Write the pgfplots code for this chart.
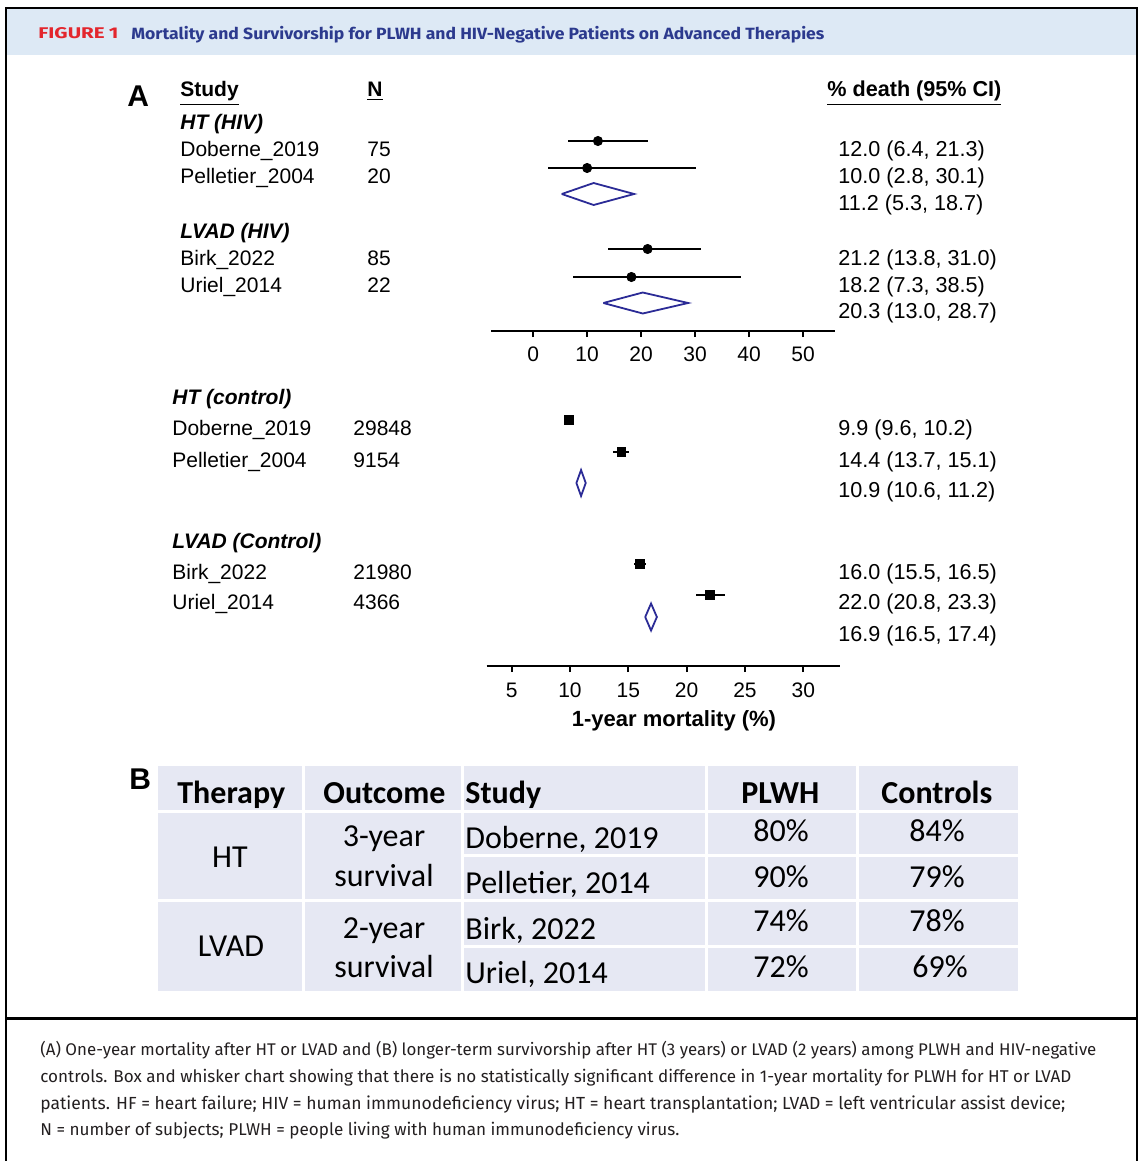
\documentclass[border=0pt]{standalone}
\usepackage{pgfplots}
\pgfplotsset{compat=1.18}
\usepackage{pgfplotstable}
\usepackage{graphicx}
\usepackage{fontspec}
\setmainfont{Liberation Sans}
\newfontfamily\tabfont{Carlito}
\newfontfamily\capfont{Fira Sans}
\definecolor{hdrbg}{HTML}{DDE9F5}
\definecolor{hdrred}{HTML}{E3262D}
\definecolor{hdrblue}{HTML}{2C3A8E}
\definecolor{dblue}{HTML}{2B2B96}
\definecolor{tabbg}{HTML}{E6E8F3}
\definecolor{captxt}{HTML}{231F20}
\newcommand{\ft}{\fontsize{10.5}{12}\selectfont}
\newcommand{\fv}{\fontsize{10.8}{12}\selectfont}
\newcommand{\tf}{\tabfont\fontsize{16}{19}\selectfont}

% upper panel: PLWH (row position in px above axis line)
\pgfplotstableread{
x y em ep
12.0 190 5.6 9.3
10.0 163 7.2 20.1
21.2 82 7.4 9.8
18.2 54 10.9 20.3
}\hivdata
% lower panel: controls
\pgfplotstableread{
x y em ep
9.9 246 0.3 0.3
14.4 214 0.7 0.7
16.0 102 0.5 0.5
22.0 71 1.2 1.3
}\ctrldata

\begin{document}
\begin{tikzpicture}[x=0.5pt,y=-0.5pt,
  t/.style={anchor=base west, inner sep=0pt, font=\ft},
  v/.style={anchor=base west, inner sep=0pt, font=\fv},
  tc/.style={anchor=base, inner sep=0pt, font=\tf},
  tl/.style={anchor=base west, inner sep=0pt, font=\tf}]
\useasboundingbox (0,0) rectangle (1142,1161);
% header
\fill[hdrbg] (7,9) rectangle (1136,55);
\draw[line width=1pt] (6,1161) -- (6,8) -- (1137,8) -- (1137,1161);
\draw[line width=1.5pt] (6,1018) -- (1137,1018);
\node[anchor=base west, inner sep=0pt, text=hdrred] at (38,39) {\resizebox{40pt}{5.5pt}{\capfont\bfseries FIGURE\kern0.2em 1}};
\node[anchor=base west, inner sep=0pt, text=hdrblue] at (131,40) {\resizebox{346.5pt}{6.6pt}{\capfont\bfseries Mortality and Survivorship for PLWH and HIV-Negative Patients on Advanced Therapies}};

% panel A labels
\node[anchor=base west, inner sep=0pt, font=\fontsize{15}{17}\selectfont\bfseries] at (127,106) {A};
\node[t] at (180,97) {\underline{\textbf{Study}}};
\node[t] at (367,97) {\underline{\textbf{N}}};
\node[v] at (827,97) {\underline{\textbf{\% death (95\% CI)}}};
\node[t] at (180,129) {\textbf{\textit{HT (HIV)}}};
\node[t] at (180,156) {Doberne\_2019};
\node[t] at (367,156) {75};
\node[t] at (180,183) {Pelletier\_2004};
\node[t] at (367,183) {20};
\node[t] at (180,238) {\textbf{\textit{LVAD (HIV)}}};
\node[t] at (180,265) {Birk\_2022};
\node[t] at (367,265) {85};
\node[t] at (180,292) {Uriel\_2014};
\node[t] at (367,292) {22};
\node[v] at (838,156) {12.0 (6.4, 21.3)};
\node[v] at (838,183) {10.0 (2.8, 30.1)};
\node[v] at (838,210) {11.2 (5.3, 18.7)};
\node[v] at (838,265) {21.2 (13.8, 31.0)};
\node[v] at (838,292) {18.2 (7.3, 38.5)};
\node[v] at (838,318) {20.3 (13.0, 28.7)};

\node[t] at (172,404) {\textbf{\textit{HT (control)}}};
\node[t] at (172,435) {Doberne\_2019};
\node[t] at (353,435) {29848};
\node[t] at (172,467) {Pelletier\_2004};
\node[t] at (353,467) {9154};
\node[t] at (172,548) {\textbf{\textit{LVAD (Control)}}};
\node[t] at (172,579) {Birk\_2022};
\node[t] at (353,579) {21980};
\node[t] at (172,609) {Uriel\_2014};
\node[t] at (353,609) {4366};
\node[v] at (838,435) {9.9 (9.6, 10.2)};
\node[v] at (838,467) {14.4 (13.7, 15.1)};
\node[v] at (838,497) {10.9 (10.6,\ 11.2)};
\node[v] at (838,579) {16.0 (15.5,\ 16.5)};
\node[v] at (838,609) {22.0 (20.8,\ 23.3)};
\node[v] at (838,641) {16.9 (16.5,\ 17.4)};
\node[anchor=base, inner sep=0pt, font=\fontsize{11}{13}\selectfont\bfseries] at (674,726) {1-year mortality (\%)};

% upper forest plot
\begin{axis}[at={(245.5pt,-165.5pt)}, anchor=south west,
  scale only axis, width=172pt, height=105.5pt,
  xmin=-7.8, xmax=55.9, ymin=0, ymax=211,
  axis x line*=bottom, axis y line=none,
  axis line style={black, line width=1pt},
  xtick={0,10,20,30,40,50}, tick align=outside, major tick length=3pt,
  every tick/.style={black, line width=0.9pt},
  xticklabel style={font=\ft, yshift=-1.5pt},
  /pgf/number format/assume math mode=true,
  clip=false]
\addplot[only marks, mark=*, mark size=2.3pt, black,
  error bars/.cd, x dir=both, x explicit, error mark=none,
  error bar style={line width=1pt, black}]
  table[x=x, y=y, x error minus=em, x error plus=ep] {\hivdata};
\addplot[dblue, line width=0.9pt, line join=miter, mark=none]
  coordinates {(5.3,137) (11.2,148) (18.7,137) (11.2,126) (5.3,137)};
\addplot[dblue, line width=0.9pt, line join=miter, mark=none]
  coordinates {(13.0,28) (20.3,38.5) (28.7,28) (20.3,17.5) (13.0,28)};
\end{axis}

% lower forest plot
\begin{axis}[at={(243.35pt,-333pt)}, anchor=south west,
  scale only axis, width=176.65pt, height=133pt,
  xmin=2.86, xmax=33.15, ymin=0, ymax=266,
  axis x line*=bottom, axis y line=none,
  axis line style={black, line width=1pt},
  xtick={5,10,15,20,25,30}, tick align=outside, major tick length=3pt,
  every tick/.style={black, line width=0.9pt},
  xticklabel style={font=\ft, yshift=-2pt},
  /pgf/number format/assume math mode=true,
  clip=false]
\addplot[only marks, mark=square*, mark size=2.1pt, black,
  error bars/.cd, x dir=both, x explicit, error mark=none,
  error bar style={line width=1pt, black}]
  table[x=x, y=y, x error minus=em, x error plus=ep] {\ctrldata};
\addplot[dblue, line width=0.9pt, line join=miter, mark=none]
  coordinates {(10.55,183) (10.95,196) (11.35,183) (10.95,170) (10.55,183)};
\addplot[dblue, line width=0.9pt, line join=miter, mark=none]
  coordinates {(16.45,49) (16.95,62.5) (17.45,49) (16.95,35.5) (16.45,49)};
\end{axis}

% panel B table
\node[anchor=base west, inner sep=0pt, font=\fontsize{15}{17}\selectfont\bfseries] at (129,789) {B};
\fill[tabbg] (158,766) rectangle (1018,991);
\begin{scope}[white, line width=1.5pt]
\draw (303,766) -- (303,991);
\draw (462,766) -- (462,991);
\draw (706,766) -- (706,991);
\draw (857,766) -- (857,991);
\draw (158,811) -- (1018,811);
\draw (158,900) -- (1018,900);
\draw (462,855) -- (1018,855);
\draw (462,946) -- (1018,946);
\end{scope}
\node[tl] at (177,803) {\textbf{Therapy}};
\node[tl] at (323,803) {\textbf{Outcome}};
\node[tl] at (465,803) {\textbf{Study}};
\node[tl] at (741,803) {\textbf{PLWH}};
\node[tl] at (881,803) {\textbf{Controls}};
\node[tc] at (230,867) {HT};
\node[tc] at (231,956) {LVAD};
\node[tc] at (384,846) {3-year};
\node[tc] at (384,886) {survival};
\node[tc] at (384,938) {2-year};
\node[tc] at (384,977) {survival};
\node[tl] at (465,848) {Doberne, 2019};
\node[tl] at (465,893) {Pelletier, 2014};
\node[tl] at (465,939) {Birk, 2022};
\node[tl] at (465,983) {Uriel, 2014};
\node[tc] at (781,841) {80\%};
\node[tc] at (781,887) {90\%};
\node[tc] at (781,931) {74\%};
\node[tc] at (781,977) {72\%};
\node[tc] at (937,841) {84\%};
\node[tc] at (937,887) {79\%};
\node[tc] at (937,931) {78\%};
\node[tc] at (940,977) {69\%};

% caption
\begin{scope}[every node/.style={anchor=base west, inner sep=0pt, text=captxt, font=\capfont\fontsize{9}{11}\selectfont}]
\node at (40,1055) {\resizebox{528pt}{!}{(A) One-year mortality after HT or LVAD and (B) longer-term survivorship after HT (3 years) or LVAD (2 years) among PLWH and HIV-negative}};
\node at (40,1082) {\resizebox{515.5pt}{!}{controls. Box and whisker chart showing that there is no statistically significant difference in 1-year mortality for PLWH for HT or LVAD}};
\node at (40,1109) {\resizebox{512.5pt}{!}{patients. HF = heart failure; HIV = human immunodeficiency virus; HT = heart transplantation; LVAD = left ventricular assist device;}};
\node at (40,1135) {\resizebox{319.5pt}{!}{N = number of subjects; PLWH = people living with human immunodeficiency virus.}};
\end{scope}
\end{tikzpicture}
\end{document}
